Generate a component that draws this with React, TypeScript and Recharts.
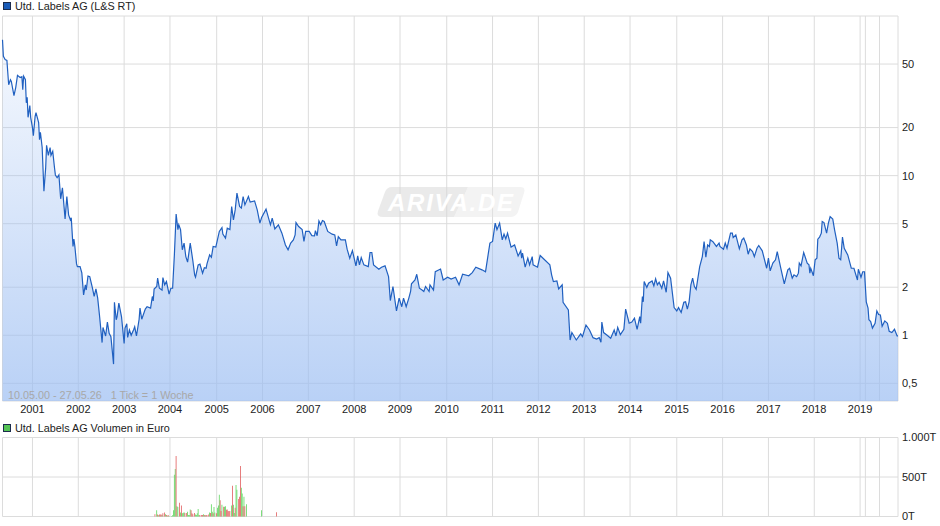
import { Area, AreaChart, Bar, BarChart, CartesianGrid, XAxis, YAxis } from "recharts";

const FONT = "'Liberation Sans', Arial, sans-serif";

// x axis counts weeks since 10.05.00 (1 Tick = 1 Woche)
const LAST_WEEK = 1016;
const yearWeeks = [34, 86, 138, 190, 243, 295, 347, 399, 451, 504, 556, 608, 660, 712, 765, 817, 869, 921, 973];
const yearLabels = ["2001", "2002", "2003", "2004", "2005", "2006", "2007", "2008", "2009", "2010", "2011", "2012", "2013", "2014", "2015", "2016", "2017", "2018", "2019"];
const extraGridWeeks = [979, 995];

const priceTicks = [0.5, 1, 2, 5, 10, 20, 50];
const priceMin = 0.3875;
const priceMax = 100;
const volumeTicks = [0, 500, 1000];

const priceWeeks = [
  0, 1, 3, 5, 7, 9, 10, 13, 15, 17, 20, 22, 23, 24, 26, 27, 28, 29, 30, 31, 32, 34, 35, 37, 38, 41, 42, 43, 45, 47,
  49, 50, 52, 54, 55, 57, 59, 60, 62, 64, 66, 68, 71, 73, 75, 77, 78, 80, 81, 82, 84, 85, 88, 90, 92, 94, 95, 97, 99, 102,
  104, 106, 108, 110, 113, 114, 117, 119, 121, 123, 126, 127, 129, 130, 132, 135, 138, 139, 141, 142, 144, 146, 149, 150, 152, 155, 156, 158, 162, 164,
  168, 170, 171, 172, 175, 176, 178, 181, 182, 184, 186, 189, 191, 193, 195, 197, 199, 200, 202, 204, 206, 208, 210, 213, 216, 218, 219, 222, 224, 227,
  229, 231, 232, 235, 237, 239, 242, 246, 249, 250, 253, 255, 258, 260, 262, 264, 266, 269, 271, 273, 275, 279, 281, 286, 289, 292, 294, 299, 304, 306,
  309, 313, 317, 321, 324, 327, 330, 332, 333, 336, 340, 342, 344, 348, 351, 354, 355, 357, 359, 361, 363, 365, 369, 374, 377, 379, 381, 384, 389, 391,
  394, 397, 401, 403, 405, 407, 410, 415, 417, 419, 421, 427, 430, 434, 438, 440, 443, 447, 450, 453, 455, 458, 461, 463, 464, 468, 470, 473, 476, 478,
  480, 484, 485, 489, 491, 497, 500, 505, 509, 514, 518, 522, 529, 533, 537, 544, 548, 553, 556, 559, 561, 564, 567, 569, 571, 573, 577, 581, 585, 588,
  589, 590, 593, 596, 598, 601, 602, 607, 610, 621, 623, 625, 629, 631, 635, 636, 642, 644, 646, 651, 656, 658, 662, 666, 670, 674, 677, 679, 680, 682,
  686, 690, 694, 696, 698, 701, 705, 707, 711, 714, 717, 720, 723, 724, 726, 727, 728, 731, 733, 737, 739, 741, 743, 745, 748, 750, 753, 755, 758, 762,
  765, 767, 770, 773, 775, 777, 779, 781, 783, 785, 787, 791, 794, 796, 798, 800, 802, 803, 806, 810, 813, 814, 818, 820, 822, 826, 828, 829, 832, 836,
  839, 841, 844, 846, 848, 851, 853, 856, 858, 862, 867, 869, 871, 874, 877, 879, 883, 887, 891, 893, 896, 898, 901, 903, 904, 906, 909, 913, 915, 916,
  917, 920, 922, 924, 925, 927, 929, 930, 932, 935, 937, 939, 942, 944, 947, 949, 951, 953, 955, 959, 963, 966, 970, 971, 974, 976, 978, 980, 982, 983,
  985, 987, 990, 992, 994, 996, 998, 1001, 1004, 1006, 1009, 1012, 1015, 1016,
];
const priceValues = [
  71, 55.9, 53.3, 52.7, 37.1, 39.9, 38.9, 31.7, 35.6, 42.5, 41.2, 41.7, 34.5, 41.9, 39.9, 28.6, 31, 23.2, 25.2, 27.5, 23.1, 20, 17.8, 23.5, 24.8, 21.5, 16.8, 18.7, 15, 8,
  11.2, 15.5, 13.4, 15, 13.4, 14.2, 11.2, 10.1, 9.7, 10.1, 7.16, 8.4, 5.36, 7.4, 5.68, 5.28, 5.44, 3.6, 4, 3.65, 2.8, 2.69, 2.69, 2.46, 1.79, 2.07, 1.92, 2.35, 2.33, 1.98,
  1.75, 1.95, 1.71, 1.34, 0.9, 1.12, 0.99, 1.21, 1.03, 0.98, 0.66, 1.61, 1.25, 1.31, 1.59, 1.31, 0.89, 1.11, 1.18, 0.97, 1.08, 1, 1.09, 1.13, 0.99, 1.26, 1.48, 1.26, 1.46, 1.51,
  1.48, 1.75, 1.64, 1.95, 2.02, 2.28, 1.97, 1.92, 2.3, 2.07, 2.17, 1.81, 1.97, 1.97, 3.19, 5.74, 4.59, 4.92, 4.59, 3.43, 3.78, 3.11, 2.87, 3.78, 2.92, 2.39, 2.31, 2.76, 2.79, 2.45,
  2.65, 2.63, 2.8, 3.19, 3.08, 3.6, 3.57, 4.47, 4.73, 4.3, 4.06, 4.69, 4.59, 6.41, 5.28, 6.1, 7.77, 6.41, 6.26, 7.4, 6.56, 7.4, 6.83, 6.95, 6.1, 5.04, 5.46, 6.17, 4.92, 5.42,
  4.64, 4.92, 4.36, 3.68, 3.43, 3.78, 3.96, 4.25, 5.08, 4.8, 4.59, 3.87, 4.47, 4.47, 4.21, 4.2, 4.52, 4.2, 5.2, 4.92, 5.23, 5.16, 4.47, 4.3, 4.25, 3.63, 4.15, 3.96, 3.96, 3.46,
  3.04, 3.39, 2.72, 3.14, 2.76, 3.07, 2.76, 2.69, 3.3, 3.3, 2.76, 2.59, 2.67, 2.72, 2.33, 1.65, 2.02, 1.42, 1.71, 1.51, 1.71, 1.51, 1.71, 1.88, 2.1, 2.22, 2.41, 1.97, 1.92, 1.88,
  2.02, 1.88, 2.07, 1.92, 2.5, 2.6, 2.22, 2.31, 2.25, 2.31, 2.07, 2.41, 2.36, 2.47, 2.67, 2.57, 2.5, 3.78, 3.87, 5.04, 4.59, 5.04, 3.96, 4.3, 4.02, 4.36, 3.57, 3.68, 3.14, 3.38,
  3.04, 3.27, 2.67, 3.04, 2.76, 3.11, 2.76, 2.67, 3.16, 2.76, 2.39, 2.17, 2.19, 1.95, 2.07, 1.61, 1.44, 0.934, 1.04, 0.934, 1.02, 0.98, 1.16, 1.08, 0.966, 0.948, 0.966, 0.904, 1.21, 1.04,
  1, 0.958, 1.08, 0.99, 1.12, 1.01, 1.09, 1.46, 1.19, 1.21, 1.28, 1.09, 1.31, 1.19, 1.75, 1.62, 2.17, 1.99, 2.12, 2.19, 2.04, 2.26, 2.07, 2.15, 1.97, 2.19, 1.86, 2.47, 2.28, 1.49,
  1.42, 1.49, 1.39, 1.61, 1.62, 1.46, 1.62, 2.07, 2.28, 2.02, 1.94, 2.69, 3.11, 3.86, 3.08, 3.68, 3.6, 3.96, 3.86, 3.6, 3.78, 3.6, 3.46, 3.78, 3.51, 4.36, 4.36, 4.09, 4.25, 3.48,
  3.96, 4.06, 3.68, 3.22, 3.48, 3.34, 3.11, 3.51, 3.65, 3.38, 2.63, 3.04, 2.53, 2.83, 2.97, 3.34, 2.63, 2.1, 2.57, 2.63, 2.28, 2.39, 2.33, 2.45, 2.83, 2.72, 3.3, 2.83, 2.76, 2.45,
  2.63, 2.36, 2.97, 3.04, 4, 4.12, 4.36, 5.16, 5.08, 4.36, 5.04, 5.54, 5.34, 4.59, 3.78, 3.04, 2.97, 4.12, 3.51, 3.19, 2.63, 2.63, 2.22, 2.59, 2.31, 2.5, 2.5, 1.62, 1.48, 1.25,
  1.22, 1.11, 1.19, 1.42, 1.35, 1.34, 1.14, 1.23, 1.19, 1.06, 1.04, 1.09, 0.99, 0.99,
];

// volume in thousands, split by up and down weeks
const upWeeks = [175, 177, 181, 185, 187, 189, 192, 193, 194, 195, 196, 198, 199, 202, 204, 205, 206, 210, 211, 212, 213, 219, 220, 221, 222, 223, 228, 230, 235, 237, 238, 240, 241, 244, 245, 246, 249, 252, 253, 260, 262, 263, 265, 266, 271, 272, 274, 277, 294];
const upVolumes = [80, 15, 20, 30, 8, 5, 5, 15, 80, 530, 600, 130, 120, 50, 40, 45, 55, 60, 20, 20, 90, 25, 20, 40, 95, 20, 30, 15, 50, 155, 60, 120, 50, 110, 140, 275, 150, 125, 130, 140, 150, 45, 400, 340, 365, 290, 250, 155, 80];
const downWeeks = [173, 176, 178, 179, 180, 182, 184, 186, 188, 197, 201, 203, 207, 209, 214, 215, 216, 218, 224, 226, 227, 229, 231, 232, 234, 236, 239, 243, 247, 248, 251, 254, 255, 256, 257, 258, 261, 264, 268, 269, 270, 273, 275, 311];
const downVolumes = [30, 25, 25, 25, 25, 40, 50, 20, 20, 765, 175, 140, 45, 45, 80, 40, 30, 45, 20, 20, 20, 20, 20, 20, 25, 45, 40, 40, 205, 70, 125, 85, 90, 70, 65, 70, 390, 110, 220, 250, 640, 130, 130, 55];

const priceData = priceWeeks.map((week, i) => ({ week, price: priceValues[i] }));
const volumeData = [
  ...upWeeks.map((week, i) => ({ week, up: upVolumes[i], down: 0 })),
  ...downWeeks.map((week, i) => ({ week, up: 0, down: downVolumes[i] })),
  { week: 0, up: 0, down: 0 },
  { week: LAST_WEEK, up: 0, down: 0 },
].sort((a, b) => a.week - b.week);

const xTicks = [0, ...yearWeeks, ...extraGridWeeks, LAST_WEEK];
const yearLabel = (week: number) => {
  const i = yearWeeks.indexOf(week);
  return i < 0 ? "" : yearLabels[i];
};
const priceLabel = (v: number) => (priceTicks.includes(v) ? String(v).replace(".", ",") : "");
const volumeLabel = (v: number) => (v === 1000 ? "1.000T" : `${v}T`);

const GRID = "#dcdcdc";
const tickStyle = { fill: "#222", fontSize: 11, fontFamily: FONT };
const labelStyle: React.CSSProperties = {
  position: "absolute",
  left: 15,
  fontSize: 10.8,
  lineHeight: "12px",
  color: "#222",
  fontFamily: FONT,
  whiteSpace: "nowrap",
};

function Swatch({ top, color }: { top: number; color: string }) {
  return (
    <div
      style={{
        position: "absolute",
        left: 3,
        top,
        width: 6,
        height: 6,
        background: color,
        border: "1px solid #1c2c4c",
      }}
    />
  );
}

function Watermark() {
  return (
    <svg width={150} height={32} style={{ position: "absolute", left: 376, top: 186 }}>
      <path
        d="M16 1 H92 L78 31 H7 Q0 31 2 25 L9 6 Q11 1 16 1 Z"
        fill="#d8d8d8"
        fillOpacity={0.55}
      />
      <path d="M92 1 H144 Q150 1 148 7 L142 26 Q140 31 134 31 H78 Z" fill="#e4e4e4" fillOpacity={0.45} />
      <text
        x={12}
        y={25}
        fontFamily={FONT}
        fontStyle="italic"
        fontWeight="bold"
        fontSize={24}
        fill="#fff"
        textLength={125}
      >
        ARIVA.DE
      </text>
    </svg>
  );
}

export default function App() {
  return (
    <div style={{ position: "absolute", left: 0, top: 0, width: 940, height: 526, background: "#fff", overflow: "hidden" }}>
      <Swatch top={2} color="#1a5cb8" />
      <div style={{ ...labelStyle, top: 0 }}>Utd. Labels AG (L&amp;S RT)</div>

      <AreaChart width={940} height={430} data={priceData} margin={{ top: 16, right: 0, bottom: 9, left: 2.5 }}>
        <defs>
          <linearGradient id="priceFill" x1="0" y1="0" x2="0" y2="1">
            <stop offset="0%" stopColor="#9bbdf2" stopOpacity={0.1} />
            <stop offset="100%" stopColor="#9bbdf2" stopOpacity={0.7} />
          </linearGradient>
        </defs>
        <CartesianGrid stroke={GRID} />
        <XAxis
          dataKey="week"
          type="number"
          domain={[0, LAST_WEEK]}
          ticks={xTicks}
          interval={0}
          tickFormatter={yearLabel}
          tick={tickStyle}
          tickLine={false}
          axisLine={false}
          height={20}
          tickMargin={-2}
        />
        <YAxis
          orientation="right"
          scale="log"
          domain={[priceMin, priceMax]}
          allowDataOverflow
          ticks={[priceMin, ...priceTicks, priceMax]}
          interval={0}
          tickFormatter={priceLabel}
          tick={tickStyle}
          tickLine={false}
          axisLine={false}
          width={42}
          tickMargin={-2}
        />
        <Area
          type="linear"
          dataKey="price"
          baseValue={priceMin}
          stroke="#2060c0"
          strokeWidth={1.2}
          fill="url(#priceFill)"
          fillOpacity={1}
          dot={false}
          activeDot={false}
          isAnimationActive={false}
        />
      </AreaChart>

      <Watermark />
      <div style={{ position: "absolute", left: 8, top: 388, fontSize: 10.8, lineHeight: "14px", color: "#a8a8a8", fontFamily: FONT, whiteSpace: "pre" }}>
        10.05.00 - 27.05.26   1 Tick = 1 Woche
      </div>

      <Swatch top={424} color="#55c455" />
      <div style={{ ...labelStyle, top: 422 }}>Utd. Labels AG Volumen in Euro</div>

      <div style={{ position: "absolute", left: 0, top: 420 }}>
        <BarChart width={940} height={106} data={volumeData} margin={{ top: 17.5, right: 0, bottom: 9.5, left: 2.5 }}>
          <CartesianGrid stroke={GRID} />
          <XAxis dataKey="week" type="number" domain={[0, LAST_WEEK]} ticks={xTicks} interval={0} hide />
          <YAxis
            orientation="right"
            domain={[0, 1000]}
            ticks={volumeTicks}
            interval={0}
            tickFormatter={volumeLabel}
            tick={tickStyle}
            tickLine={false}
            axisLine={false}
            width={42}
            tickMargin={-2}
          />
          <Bar dataKey="up" stackId="v" fill="#5cd65c" barSize={1.5} isAnimationActive={false} />
          <Bar dataKey="down" stackId="v" fill="#e05c5c" barSize={1.5} isAnimationActive={false} />
        </BarChart>
      </div>
    </div>
  );
}
